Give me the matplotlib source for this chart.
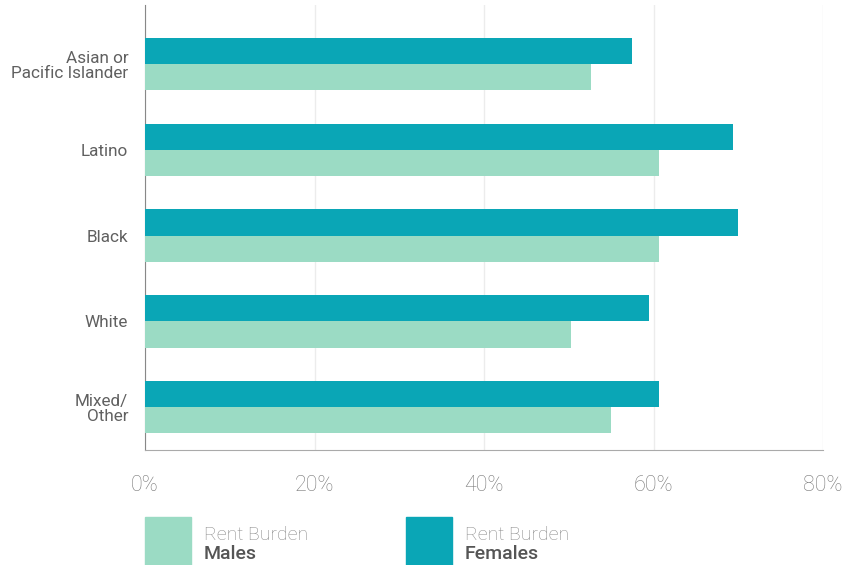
import matplotlib
matplotlib.use("Agg")
import matplotlib.pyplot as plt
from matplotlib.patches import Rectangle
import numpy as np

categories = ["Asian or\nPacific Islander", "Latino", "Black", "White", "Mixed/\nOther"]
females = [57.5, 69.4, 70.0, 59.5, 60.6]
males = [52.6, 60.6, 60.6, 50.3, 55.0]
xticks = [0, 20, 40, 60, 80]
xtick_labels = ["0%", "20%", "40%", "60%", "80%"]

c_f = "#0AA6B6"
c_m = "#9BDBC4"

plt.rcParams['font.family'] = ['Roboto', 'DejaVu Sans']

fig = plt.figure(figsize=(8.48, 5.65), dpi=100)
ax = fig.add_axes([145/848, 1-450/565, (823-145)/848, 445/565])

y = np.arange(len(categories))
h = 0.305
ax.barh(y - h/2, females, height=h, color=c_f, zorder=3)
ax.barh(y + h/2, males, height=h, color=c_m, zorder=3)

ax.set_xlim(0, 80)
ax.set_ylim(4.5, -0.69)
ax.set_xticks(xticks)
ax.set_xticklabels(xtick_labels, fontsize=15.5, color="#7a7a7a", fontweight="light")
ax.set_yticks(y)
ax.set_yticklabels(categories, fontsize=12.3, color="#606060", linespacing=1.05)
ax.tick_params(axis="both", length=0)
ax.tick_params(axis="x", pad=18)
ax.tick_params(axis="y", pad=12)
ax.grid(axis="x", color="#ececec", linewidth=1, zorder=0)
for s in ["top", "right"]:
    ax.spines[s].set_visible(False)
ax.spines["left"].set_color("#888888")
ax.spines["bottom"].set_color("#aaaaaa")

# legend
def legend_item(x0, color, label):
    fig.patches.append(Rectangle((x0/848, 0), 46/848, 48/565, transform=fig.transFigure,
                                 color=color, zorder=5))
    fig.text((x0+59)/848, 1-535/565, "Rent Burden", fontsize=14, color="#8a8a8a",
             fontweight="light", va="center", ha="left")
    fig.text((x0+59)/848, 1-554/565, label, fontsize=14, color="#555555",
             fontweight="medium", va="center", ha="left")

legend_item(145, c_m, "Males")
legend_item(406, c_f, "Females")

fig.savefig("out.png", dpi=100)
